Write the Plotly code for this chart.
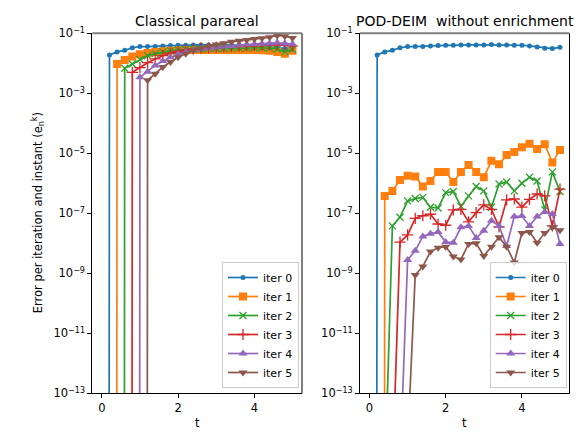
import plotly.graph_objects as go

# ---------------- data ----------------
t = [0.0, 0.2, 0.4, 0.6, 0.8, 1.0, 1.2, 1.4, 1.6, 1.8, 2.0, 2.2, 2.4,
     2.6, 2.8, 3.0, 3.2, 3.4, 3.6, 3.8, 4.0, 4.2, 4.4, 4.6, 4.8, 5.0]

labels = ["iter 0", "iter 1", "iter 2", "iter 3", "iter 4", "iter 5"]

# Classical parareal (0 = exact, not drawn on log axis)
par_iter0 = [0, 0.019, 0.024, 0.027, 0.033, 0.036, 0.036, 0.036, 0.038, 0.039, 0.040, 0.040, 0.041,
             0.041, 0.041, 0.041, 0.042, 0.041, 0.041, 0.040, 0.040, 0.038, 0.035, 0.032, 0.031, 0.034]
par_iter1 = [0, 0, 0.0095, 0.013, 0.017, 0.020, 0.022, 0.024, 0.025, 0.026, 0.027, 0.027, 0.028,
             0.028, 0.028, 0.028, 0.028, 0.028, 0.028, 0.028, 0.028, 0.027, 0.026, 0.024, 0.021, 0.026]
par_iter2 = [0, 0, 0, 0.0068, 0.0095, 0.0135, 0.018, 0.021, 0.024, 0.026, 0.028, 0.029, 0.030,
             0.030, 0.031, 0.031, 0.031, 0.032, 0.032, 0.032, 0.033, 0.033, 0.032, 0.030, 0.024, 0.029]
par_iter3 = [0, 0, 0, 0, 0.005, 0.0072, 0.0105, 0.014, 0.018, 0.022, 0.025, 0.028, 0.030,
             0.032, 0.033, 0.034, 0.035, 0.036, 0.037, 0.038, 0.039, 0.040, 0.041, 0.042, 0.040, 0.038]
par_iter4 = [0, 0, 0, 0, 0, 0.0034, 0.0052, 0.0085, 0.012, 0.016, 0.020, 0.024, 0.027,
             0.030, 0.032, 0.034, 0.036, 0.038, 0.040, 0.042, 0.044, 0.045, 0.046, 0.048, 0.046, 0.044]
par_iter5 = [0, 0, 0, 0, 0, 0, 0.0027, 0.0045, 0.0075, 0.011, 0.016, 0.021, 0.027,
             0.032, 0.037, 0.042, 0.047, 0.052, 0.056, 0.060, 0.064, 0.068, 0.074, 0.085, 0.080, 0.070]

# POD-DEIM without enrichment
pod_iter0 = [0, 0.019, 0.024, 0.027, 0.033, 0.036, 0.036, 0.036, 0.038, 0.039, 0.040, 0.040, 0.041,
             0.041, 0.041, 0.041, 0.042, 0.041, 0.041, 0.040, 0.040, 0.038, 0.035, 0.032, 0.031, 0.034]
pod_iter1 = [0, 0, 3.8e-7, 5.5e-7, 1.3e-6, 1.8e-6, 1.7e-6, 7.8e-7, 1.2e-6, 2.4e-6, 2.4e-6, 1.1e-6, 2.4e-6,
             4.1e-6, 2.4e-6, 1.6e-6, 5.6e-6, 4.3e-6, 8.7e-6, 1.1e-5, 1.6e-5, 2.1e-5, 1.4e-5, 2.0e-5, 4.9e-6, 1.3e-5]
pod_iter2 = [0, 0, 1e-16, 3.8e-8, 7.4e-8, 2.6e-7, 3.1e-7, 3.4e-7, 1.6e-7, 1.5e-7, 4.9e-7, 5.3e-7, 1.7e-7,
             3.8e-7, 7.8e-7, 5.6e-7, 1.6e-7, 9.5e-7, 1.1e-6, 5.6e-7, 1.0e-6, 1.6e-6, 1.2e-6, 1.3e-7, 2.4e-6, 5.3e-7]
pod_iter3 = [0, 0, 0, 2e-16, 1.1e-8, 1.9e-8, 6.8e-8, 8.3e-8, 9.3e-8, 4.4e-8, 4.0e-8, 1.3e-7, 1.35e-7,
             5.2e-8, 1.05e-7, 1.9e-7, 1.35e-7, 3.5e-8, 2.8e-7, 3.0e-7, 1.6e-7, 2.9e-7, 4.4e-7, 3.8e-7, 3.8e-8, 6.4e-7]
pod_iter4 = [0, 0, 0, 0, 4e-16, 2.8e-9, 5.6e-9, 1.7e-8, 2.1e-8, 2.4e-8, 1.1e-8, 1.05e-8, 3.4e-8,
             3.8e-8, 1.5e-8, 2.6e-8, 5.6e-8, 3.8e-8, 8.1e-9, 7.8e-8, 8.1e-8, 3.8e-8, 7.8e-8, 1.1e-7, 9.5e-8, 9.5e-9]
pod_iter5 = [0, 0, 0, 0, 0, 2e-15, 8.8e-10, 1.7e-9, 5.3e-9, 7.1e-9, 7.7e-9, 3.6e-9, 2.9e-9,
             9.5e-9, 1.0e-8, 3.8e-9, 7.7e-9, 1.6e-8, 7.7e-9, 2.3e-9, 2.2e-8, 2.4e-8, 1.05e-8, 2.2e-8, 3.4e-8, 2.7e-8]

parareal = [par_iter0, par_iter1, par_iter2, par_iter3, par_iter4, par_iter5]
poddeim = [pod_iter0, pod_iter1, pod_iter2, pod_iter3, pod_iter4, pod_iter5]

y_tick_exps = [-1, -3, -5, -7, -9, -11, -13]
x_ticks = [0, 2, 4]

# ---------------- style ----------------
colors = ["#1f77b4", "#ff7f0e", "#2ca02c", "#d62728", "#9467bd", "#8c564b"]
symbols = ["circle", "square", "x-thin", "cross-thin", "triangle-up", "triangle-down"]
msizes = [5, 8, 7, 8, 8, 8]
FONT = "DejaVu Sans"
W, H = 587, 435

# pixel geometry
L1, R1 = 92.3, 302.0
L2, R2 = 360.0, 569.5
TOP, BOT = 33.3, 393.3


def px(x):
    return x / W


def py(y):
    return 1 - y / H


def clip0(vals):
    # log axis: exact zeros go far below the visible range (vertical drop)
    return [v if v > 0 else 1e-300 for v in vals]


def marker_for(i):
    m = dict(symbol=symbols[i], size=msizes[i], color=colors[i])
    if symbols[i] in ("x-thin", "cross-thin"):
        m["line"] = dict(color=colors[i], width=1.3)
    else:
        m["line"] = dict(width=0)
    return m


fig = go.Figure()

for panel, (data, xa, ya, leg) in enumerate([(parareal, "x", "y", "legend"),
                                              (poddeim, "x2", "y2", "legend2")]):
    for i, vals in enumerate(data):
        fig.add_trace(go.Scatter(
            x=t, y=clip0(vals), mode="lines+markers", name=labels[i],
            line=dict(color=colors[i], width=1.7),
            marker=marker_for(i),
            xaxis=xa, yaxis=ya, legend=leg, cliponaxis=True,
        ))

tickvals_y = [10.0 ** e for e in y_tick_exps]
ticktext_y = ["10<sup>\u2212%d</sup>" % (-e) for e in y_tick_exps]

axis_common_x = dict(range=[-0.25, 5.25], tickvals=x_ticks, ticktext=[str(v) for v in x_ticks],
                     ticks="outside", ticklen=4, tickwidth=1, tickcolor="black",
                     showline=True, linecolor="black", linewidth=1, mirror=False,
                     showgrid=False, zeroline=False, automargin=False,
                     tickfont=dict(family=FONT, size=11.5, color="black"))
axis_common_y = dict(type="log", range=[-13, -1], tickvals=tickvals_y, ticktext=ticktext_y,
                     ticks="outside", ticklen=4, tickwidth=1, tickcolor="black",
                     showline=True, linecolor="black", linewidth=1, mirror=False,
                     showgrid=False, zeroline=False, automargin=False,
                     tickfont=dict(family=FONT, size=11.5, color="black"))

legend_common = dict(yanchor="bottom", xanchor="right",
                     bgcolor="rgba(255,255,255,0.8)", bordercolor="#cccccc", borderwidth=1,
                     font=dict(family=FONT, size=11), tracegroupgap=0, itemwidth=30)

fig.update_layout(
    width=W, height=H,
    margin=dict(l=0, r=0, t=0, b=0, autoexpand=False),
    paper_bgcolor="white", plot_bgcolor="white",
    font=dict(family=FONT, size=11.5, color="black"),
    xaxis=dict(domain=[px(L1), px(R1)], anchor="y", **axis_common_x),
    yaxis=dict(domain=[py(BOT), py(TOP)], anchor="x", **axis_common_y),
    xaxis2=dict(domain=[px(L2), px(R2)], anchor="y2", **axis_common_x),
    yaxis2=dict(domain=[py(BOT), py(TOP)], anchor="x2", **axis_common_y),
    legend=dict(x=px(299), y=py(388), **legend_common),
    legend2=dict(x=px(566.7), y=py(388), **legend_common),
    showlegend=True,
)

# right and top spines
for xr, yr in (("x domain", "y domain"), ("x2 domain", "y2 domain")):
    fig.add_shape(type="line", xref=xr, yref=yr, x0=1, x1=1, y0=0, y1=1,
                  line=dict(color="black", width=1))
    fig.add_shape(type="line", xref=xr, yref=yr, x0=0, x1=1, y0=1, y1=1,
                  line=dict(color="#808080", width=2))

# titles and axis labels
fig.add_annotation(text="Classical parareal", x=px((L1 + R1) / 2), y=py(21), xref="paper", yref="paper",
                   showarrow=False, xanchor="center", yanchor="middle",
                   font=dict(family=FONT, size=14, color="black"))
fig.add_annotation(text="POD-DEIM  without enrichment", x=px((L2 + R2) / 2), y=py(21), xref="paper",
                   yref="paper", showarrow=False, xanchor="center", yanchor="middle",
                   font=dict(family=FONT, size=14, color="black"))
for cx in ((L1 + R1) / 2, (L2 + R2) / 2):
    fig.add_annotation(text="t", x=px(cx), y=py(423), xref="paper", yref="paper",
                       showarrow=False, xanchor="center", yanchor="middle",
                       font=dict(family=FONT, size=11.5, color="black"))
fig.add_annotation(text="Error per iteration and instant (e<sub>n</sub><sup>k</sup>)",
                   x=px(38), y=py((TOP + BOT) / 2), xref="paper", yref="paper",
                   showarrow=False, xanchor="center", yanchor="middle", textangle=-90,
                   font=dict(family=FONT, size=11.5, color="black"))

fig.write_html("out.html", config={"displayModeBar": False},
               post_script="document.body.style.margin='0px';document.body.style.overflow='hidden';")
